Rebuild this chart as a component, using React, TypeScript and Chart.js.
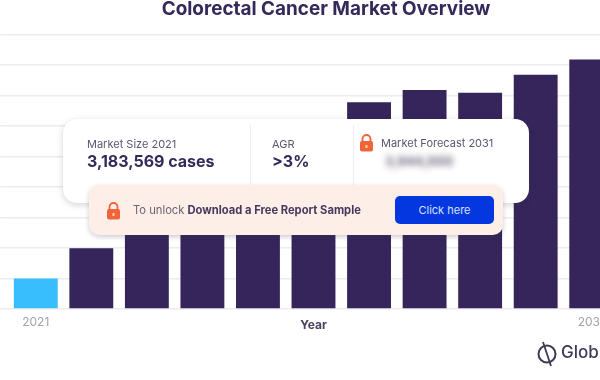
import React, { useEffect, useRef } from "react";
import { Chart, registerables } from "chart.js";

Chart.register(...registerables);

const years = ["2021","2022","2023","2024","2025","2026","2027","2028","2029","2030","2031"];
const cases = [3183569, 6370000, 10200000, 13100000, 15800000, 18900000, 21700000, 23000000, 22700000, 24600000, 26200000];
const barColors = ["#38bdfd","#35255a","#35255a","#35255a","#35255a","#35255a","#35255a","#35255a","#35255a","#35255a","#35255a"];
const shownYears = ["2021", "2031"];
const FONT = "Inter, 'Noto Sans', sans-serif";
const INK = "#35295a";

function Lock({ x, y }: { x: number; y: number }) {
  return (
    <svg width="15" height="18" viewBox="0 0 15 18" style={{ position: "absolute", left: x, top: y }}>
      <path d="M3.5 8V5a4 4 0 0 1 8 0v3" fill="none" stroke="#f0643c" strokeWidth="1.8" />
      <rect x="1" y="7" width="13" height="10.5" rx="2" fill="#f0643c" />
      <rect x="6.5" y="11" width="2" height="3" fill="#ffd9a0" />
    </svg>
  );
}

function Txt({ x, y, size, bold, color, children, extra }: any) {
  return (
    <div style={{ position: "absolute", left: x, top: y, fontSize: size, fontWeight: bold ? 700 : 400, color, whiteSpace: "nowrap", lineHeight: 1, fontFamily: FONT, ...extra }}>
      {children}
    </div>
  );
}

export default function App() {
  const ref = useRef<HTMLCanvasElement>(null);
  useEffect(() => {
    document.body.style.margin = "0";
    const chart = new Chart(ref.current!, {
      type: "bar",
      data: {
        labels: years,
        datasets: [{ data: cases, backgroundColor: barColors, barPercentage: 0.79, categoryPercentage: 1 }],
      },
      options: {
        animation: false,
        responsive: false,
        layout: { padding: { left: 0, right: 33, top: 34.7, bottom: 47.3 } },
        plugins: {
          legend: { display: false },
          tooltip: { enabled: false },
          title: { display: false },
        },
        scales: {
          x: {
            grid: { display: false, drawTicks: false },
            border: { display: false },
            ticks: {
              autoSkip: false,
              maxRotation: 0,
              padding: 6,
              color: "#a3a3a8",
              font: { family: FONT, size: 12 },
              callback: (_v: any, i: number) => (shownYears.includes(years[i]) ? years[i] : ""),
            },
            title: {
              display: true,
              text: "Year",
              color: "#4a4160",
              font: { family: FONT, size: 12, weight: "bold" },
              padding: { top: -17, bottom: 0 },
            },
          },
          y: {
            min: 0,
            max: 28800000,
            border: { display: false },
            grid: { color: "#ececec", lineWidth: 1.5, tickLength: 8 },
            ticks: { display: false, stepSize: 3200000 },
          },
        },
      },
    });
    return () => chart.destroy();
  }, []);

  return (
    <div style={{ position: "relative", width: 600, height: 380, overflow: "hidden", background: "#fff" }}>
      <canvas ref={ref} width={652} height={380} style={{ position: "absolute", left: 0, top: 0, width: 652, height: 380 }} />

      <Txt x={0} y={0} size={18.9} bold color={INK} extra={{ width: 652, textAlign: "center" }}>Colorectal Cancer Market Overview</Txt>

      <div style={{ position: "absolute", left: 63, top: 119, width: 466, height: 84, background: "#fff", borderRadius: 14, boxShadow: "0 2px 6px rgba(60,50,80,0.22)" }} />
      <div style={{ position: "absolute", left: 250, top: 125, width: 1, height: 60, background: "#eeeeee" }} />
      <div style={{ position: "absolute", left: 353, top: 125, width: 1, height: 60, background: "#eeeeee" }} />
      <Txt x={87} y={139} size={11} color="#5d5670">Market Size 2021</Txt>
      <Txt x={87} y={153} size={16} bold color={INK}>3,183,569 cases</Txt>
      <Txt x={272} y={139} size={11} color="#5d5670">AGR</Txt>
      <Txt x={272} y={153} size={16} bold color={INK}>&gt;3%</Txt>
      <Lock x={359} y={134} />
      <Txt x={381} y={138} size={11} color="#5d5670">Market Forecast 2031</Txt>
      <Txt x={385} y={155} size={13} bold color="#6b6478" extra={{ filter: "blur(3px)" }}>3,944,000</Txt>

      <div style={{ position: "absolute", left: 89, top: 185, width: 414, height: 50, background: "#fdeee8", borderRadius: 10, boxShadow: "0 2px 5px rgba(60,50,80,0.25)" }} />
      <Lock x={106} y={202} />
      <Txt x={133} y={205} size={11.2} color="#6a6474">
        To unlock <span style={{ fontWeight: 700, color: "#453a5e" }}>Download a Free Report Sample</span>
      </Txt>
      <div style={{ position: "absolute", left: 395, top: 196, width: 99, height: 28, background: "#0437e0", borderRadius: 5 }} />
      <Txt x={395} y={205} size={11} color="#d8e0ff" extra={{ width: 99, textAlign: "center" }}>Click here</Txt>

      <svg width="22" height="28" viewBox="0 0 22 28" style={{ position: "absolute", left: 536, top: 340 }}>
        <circle cx="11" cy="14" r="8.5" fill="none" stroke="#3f3a55" strokeWidth="2" />
        <path d="M7 2 L15 26" stroke="#3f3a55" strokeWidth="1.8" />
      </svg>
      <Txt x={561} y={344} size={17} color="#3f3a55" extra={{ fontWeight: 500 }}>Glob</Txt>
    </div>
  );
}
